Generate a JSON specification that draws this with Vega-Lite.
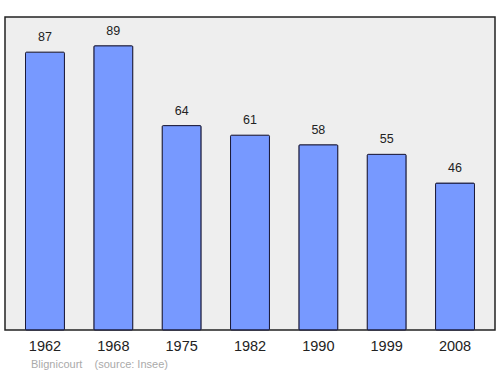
{
  "$schema": "https://vega.github.io/schema/vega-lite/v6.json",
  "autosize": "none",
  "width": 490,
  "height": 313,
  "padding": {"left": 5, "top": 17, "right": 5, "bottom": 44},
  "background": "white",
  "config": {
    "view": {"fill": "#eeeeee", "stroke": "#222222", "strokeWidth": 1.5},
    "font": "Liberation Sans"
  },
  "title": {
    "text": "Blignicourt\u00a0\u00a0\u00a0\u00a0(source: Insee)",
    "orient": "bottom",
    "anchor": "start",
    "dx": 26,
    "offset": 6,
    "fontSize": 11,
    "fontWeight": "normal",
    "color": "#aaaaaa",
    "font": "Liberation Sans"
  },
  "data": {
    "values": [
      {"year": "1962", "pop": 87},
      {"year": "1968", "pop": 89},
      {"year": "1975", "pop": 64},
      {"year": "1982", "pop": 61},
      {"year": "1990", "pop": 58},
      {"year": "1999", "pop": 55},
      {"year": "2008", "pop": 46}
    ]
  },
  "encoding": {
    "x": {
      "field": "year",
      "type": "ordinal",
      "scale": {"paddingInner": 0.43, "paddingOuter": 0.3},
      "axis": {
        "title": null,
        "domain": false,
        "ticks": false,
        "labelAngle": 0,
        "labelFontSize": 14.5,
        "labelFont": "Liberation Sans",
        "labelColor": "#222222",
        "labelPadding": 9
      }
    },
    "y": {
      "field": "pop",
      "type": "quantitative",
      "scale": {"domain": [0, 98], "nice": false},
      "axis": null
    }
  },
  "layer": [
    {
      "mark": {"type": "bar", "fill": "#7799ff", "stroke": "#1a1a3a", "strokeWidth": 1, "cornerRadius": 1}
    },
    {
      "mark": {"type": "text", "baseline": "bottom", "dy": -8, "fontSize": 12.5, "color": "#222222"},
      "encoding": {"text": {"field": "pop", "type": "quantitative"}}
    }
  ]
}
